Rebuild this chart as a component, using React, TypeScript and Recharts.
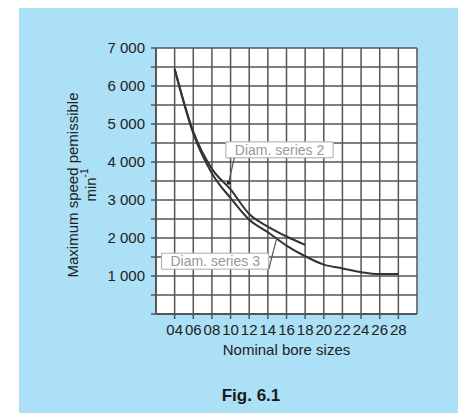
import {
  LineChart,
  Line,
  XAxis,
  YAxis,
  CartesianGrid,
  ReferenceLine,
  ReferenceArea,
  ReferenceDot,
} from 'recharts'

const bore = [4, 6, 8, 10, 12, 14, 16, 18, 20, 22, 24, 26, 28]
const series2 = [6450, 4800, 3820, 3280, 2630, 2300, 2040, 1820, null, null, null, null, null]
const series3 = [6450, 4750, 3700, 3050, 2480, 2150, 1800, 1520, 1300, 1200, 1100, 1050, 1050]
const xTicks = [4, 6, 8, 10, 12, 14, 16, 18, 20, 22, 24, 26, 28]
const yTicks = [0, 500, 1000, 1500, 2000, 2500, 3000, 3500, 4000, 4500, 5000, 5500, 6000, 6500, 7000]

const data = bore.map((b, i) => ({ bore: b, s2: series2[i], s3: series3[i] }))

const gridColor = '#555'
const textColor = '#222'

function YLabel() {
  return (
    <g fill={textColor} fontSize={15}>
      <text x={53} y={178} transform="rotate(-90, 53, 178)" textAnchor="middle" dominantBaseline="central">
        Maximum speed pemissible
      </text>
      <text x={71} y={178} transform="rotate(-90, 71, 178)" textAnchor="middle" dominantBaseline="central">
        min<tspan fontSize={10} dy={-6}>-1</tspan>
      </text>
    </g>
  )
}

export default function App() {
  return (
    <div
      style={{
        position: 'relative',
        marginLeft: 11,
        marginTop: -1,
        width: 447,
        height: 406,
        background: '#ace0f6',
        fontFamily: '"Liberation Sans", Arial, sans-serif',
      }}
    >
      <LineChart width={447} height={406} data={data} margin={{ top: 41, right: 49, bottom: 69, left: 77 }}>
        <CartesianGrid fill="#fff" stroke={gridColor} strokeWidth={1.5} />
        <XAxis
          dataKey="bore"
          type="number"
          domain={[2, 30]}
          ticks={xTicks}
          allowDataOverflow
          height={30}
          tickFormatter={(v: number) => String(v).padStart(2, '0')}
          tick={{ fill: textColor, fontSize: 15 }}
          tickSize={5}
          tickMargin={5}
          tickLine={{ stroke: gridColor, strokeWidth: 1.5 }}
          axisLine={{ stroke: gridColor, strokeWidth: 1.8 }}
          interval={0}
          label={{ value: 'Nominal bore sizes', position: 'bottom', offset: 0, fill: textColor, fontSize: 15 }}
        />
        <XAxis
          xAxisId="top"
          orientation="top"
          dataKey="bore"
          type="number"
          domain={[2, 30]}
          ticks={xTicks}
          height={0}
          tick={false}
          tickSize={4}
          tickLine={{ stroke: gridColor, strokeWidth: 1.5 }}
          axisLine={{ stroke: gridColor, strokeWidth: 1.8 }}
        />
        <YAxis
          type="number"
          domain={[0, 7000]}
          ticks={yTicks}
          width={60}
          interval={0}
          tickFormatter={(v: number) => (v > 0 && v % 1000 === 0 ? `${v / 1000} 000` : '')}
          tick={{ fill: textColor, fontSize: 15 }}
          tickSize={5}
          tickMargin={6}
          tickLine={{ stroke: gridColor, strokeWidth: 1.5 }}
          axisLine={{ stroke: gridColor, strokeWidth: 1.8 }}
          label={{ content: () => <YLabel /> }}
        />
        <YAxis
          yAxisId="right"
          orientation="right"
          type="number"
          domain={[0, 7000]}
          ticks={yTicks}
          width={0}
          tick={false}
          tickSize={4}
          tickLine={{ stroke: gridColor, strokeWidth: 1.5 }}
          axisLine={{ stroke: gridColor, strokeWidth: 1.8 }}
        />
        <ReferenceArea
          x1={9.5}
          x2={21}
          y1={4110}
          y2={4530}
          fill="#fff"
          fillOpacity={1}
          stroke="#aaa"
          label={{ value: 'Diam. series 2', position: 'center', fill: '#999', fontSize: 14 }}
        />
        <ReferenceArea
          x1={2.6}
          x2={14.1}
          y1={1180}
          y2={1600}
          fill="#fff"
          fillOpacity={1}
          stroke="#aaa"
          label={{ value: 'Diam. series 3', position: 'center', fill: '#999', fontSize: 14 }}
        />
        <ReferenceLine segment={[{ x: 10.4, y: 4110 }, { x: 9.8, y: 3455 }]} stroke="#555" strokeWidth={1.2} />
        <ReferenceLine segment={[{ x: 14.1, y: 1180 }, { x: 14.9, y: 1950 }]} stroke="#555" strokeWidth={1.2} />
        <ReferenceDot x={9.8} y={3455} r={2} fill="#222" stroke="none" />
        <Line type="monotone" dataKey="s3" stroke="#333" strokeWidth={2} dot={false} isAnimationActive={false} />
        <Line type="monotone" dataKey="s2" stroke="#333" strokeWidth={2} dot={false} isAnimationActive={false} />
      </LineChart>
      <div
        style={{
          position: 'absolute',
          left: 182,
          top: 379,
          width: 100,
          textAlign: 'center',
          fontSize: 17,
          fontWeight: 'bold',
          lineHeight: '20px',
          color: '#1a1a1a',
        }}
      >
        Fig. 6.1
      </div>
    </div>
  )
}
